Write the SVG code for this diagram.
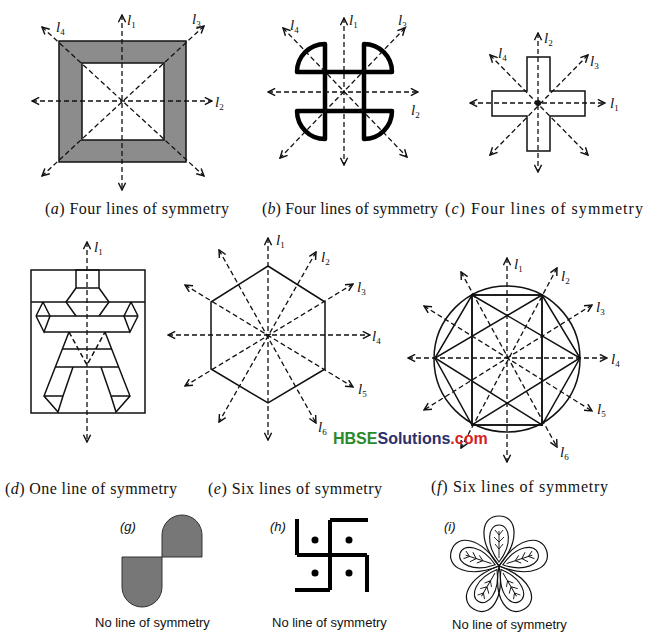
<svg xmlns="http://www.w3.org/2000/svg" width="649" height="636" viewBox="0 0 649 636">
<defs>
<marker id="ah" viewBox="0 0 10 10" refX="9" refY="5" markerWidth="9" markerHeight="9" markerUnits="userSpaceOnUse" orient="auto-start-reverse">
<path d="M1,1 L9,5 L1,9" fill="none" stroke="#111" stroke-width="1.6"/>
</marker>
<g id="petal">
<path d="M0,0 C-22,-26 -18,-50 0,-50 C18,-50 22,-26 0,0 Z" fill="none" stroke="#111" stroke-width="1.2"/>
<path d="M0,-4 C-14,-22 -11,-41 0,-41 C11,-41 14,-22 0,-4 Z" fill="none" stroke="#111" stroke-width="1.1"/>
<path d="M0,-8 V-35 M0,-31 L-4,-36 M0,-31 L4,-36 M0,-24 L-5,-29 M0,-24 L5,-29 M0,-17 L-4,-22 M0,-17 L4,-22" fill="none" stroke="#111" stroke-width="0.9"/>
</g>
</defs>
<style>
.sym{stroke:#111;stroke-width:1.3;stroke-dasharray:5,3;fill:none;marker-start:url(#ah);marker-end:url(#ah)}
.sh{fill:none;stroke:#111;stroke-width:1.5}
.lb{font-family:"Liberation Serif",serif;font-style:italic;font-size:15px;fill:#111}
.sub{font-size:9px;font-style:normal}
.cap{font-family:"Liberation Serif",serif;font-size:16px;fill:#111}
.capi{font-family:"Liberation Sans",sans-serif;font-size:13px;fill:#111}
</style>
<rect width="649" height="636" fill="#fff"/>

<g id="fig-a">
<path d="M59,41 H186 V162 H59 Z M82,63 V140 H164 V63 Z" fill="#8c8c8c" fill-rule="evenodd" stroke="#111" stroke-width="1.5"/>
</g>
<g id="fig-b">
<g fill="none" stroke="#000" stroke-width="4.5" stroke-linejoin="round">
<rect x="325" y="72" width="39" height="39"/>
<path d="M325,72 V44 A28,28 0 0 0 297,72 Z"/>
<path d="M364,72 V44 A28,28 0 0 1 392,72 Z"/>
<path d="M325,111 V139 A28,28 0 0 1 297,111 Z"/>
<path d="M364,111 V139 A28,28 0 0 0 392,111 Z"/>
</g>
</g>
<g id="fig-c">
<path d="M527,57 H550 V91 H585 V116 H550 V151 H527 V116 H492 V91 H527 Z" class="sh"/>
<circle cx="538" cy="103" r="3" fill="#111"/>
</g>
<g id="fig-d" class="sh">
<rect x="31" y="270" width="114" height="143"/>
<rect x="76" y="270" width="23" height="18"/>
<path d="M31,302 H145"/>
<path d="M76,288 L66,302 L76,316 M99,288 L109,302 L99,316"/>
<path d="M36,316 H138 M44,332 H130"/>
<path d="M36,316 L43,302 M36,316 L44,332 L50,316 L43,302 M138,316 L131,302 M138,316 L130,332 L124,316 L131,302"/>
<path d="M69,332 L44,396 L58,412 L63,396 L73,367 M44,396 H63"/>
<path d="M105,332 L130,396 L116,412 L111,396 L101,367 M111,396 H130"/>
<path d="M62,349 H112 M55,367 H119"/>
<path d="M69,332 L87,365 L105,332" stroke-dasharray="5,3"/>
</g>
<g id="fig-e">
<polygon points="268,266 325,302 325,369 268,403 211,369 211,302" class="sh"/>
</g>
<g id="fig-f" class="sh">
<circle cx="507" cy="359" r="73"/>
<polygon points="472,295 542,295 580,358 542,425 472,425 435,358"/>
<rect x="472" y="295" width="70" height="130"/>
<polygon points="472,295 580,358 472,425"/>
<polygon points="542,295 435,358 542,425"/>
</g>

<g id="connectors">
<line class="sym" x1="122" y1="15" x2="122" y2="190"/>
<line class="sym" x1="32" y1="101" x2="212" y2="101"/>
<line class="sym" x1="42" y1="27" x2="204" y2="176"/>
<line class="sym" x1="204" y1="26" x2="42" y2="176"/>

<line class="sym" x1="344" y1="18" x2="344" y2="165"/>
<line class="sym" x1="268" y1="92" x2="418" y2="92"/>
<line class="sym" x1="283" y1="28" x2="407" y2="157"/>
<line class="sym" x1="405" y1="28" x2="280" y2="158"/>

<line class="sym" x1="538" y1="33" x2="538" y2="172"/>
<line class="sym" x1="470" y1="103" x2="605" y2="103"/>
<line class="sym" x1="490" y1="55" x2="588" y2="155"/>
<line class="sym" x1="588" y1="55" x2="490" y2="155"/>

<line class="sym" x1="87" y1="242" x2="87" y2="442"/>

<line class="sym" x1="268" y1="238" x2="268" y2="440"/>
<line class="sym" x1="168" y1="335" x2="370" y2="335"/>
<line class="sym" x1="316" y1="252" x2="219" y2="422"/>
<line class="sym" x1="353" y1="284" x2="185" y2="386"/>
<line class="sym" x1="185" y1="285" x2="353" y2="387"/>
<line class="sym" x1="219" y1="250" x2="316" y2="423"/>

<line class="sym" x1="507" y1="258" x2="507" y2="462"/>
<line class="sym" x1="408" y1="358" x2="607" y2="358"/>
<line class="sym" x1="557" y1="268" x2="461" y2="448"/>
<line class="sym" x1="592" y1="305" x2="424" y2="410"/>
<line class="sym" x1="424" y1="306" x2="592" y2="411"/>
<line class="sym" x1="461" y1="272" x2="557" y2="447"/>
</g>

<g id="labels">
<text class="lb" x="127" y="25">l<tspan class="sub" dy="3">1</tspan></text>
<text class="lb" x="192" y="24">l<tspan class="sub" dy="3">3</tspan></text>
<text class="lb" x="56" y="32">l<tspan class="sub" dy="3">4</tspan></text>
<text class="lb" x="215" y="107">l<tspan class="sub" dy="3">2</tspan></text>

<text class="lb" x="349" y="25">l<tspan class="sub" dy="3">1</tspan></text>
<text class="lb" x="398" y="25">l<tspan class="sub" dy="3">3</tspan></text>
<text class="lb" x="290" y="30">l<tspan class="sub" dy="3">4</tspan></text>
<text class="lb" x="411" y="115">l<tspan class="sub" dy="3">2</tspan></text>

<text class="lb" x="544" y="43">l<tspan class="sub" dy="3">2</tspan></text>
<text class="lb" x="498" y="58">l<tspan class="sub" dy="3">4</tspan></text>
<text class="lb" x="590" y="66">l<tspan class="sub" dy="3">3</tspan></text>
<text class="lb" x="610" y="108">l<tspan class="sub" dy="3">1</tspan></text>

<text class="lb" x="94" y="252">l<tspan class="sub" dy="3">1</tspan></text>

<text class="lb" x="276" y="245">l<tspan class="sub" dy="3">1</tspan></text>
<text class="lb" x="321" y="262">l<tspan class="sub" dy="3">2</tspan></text>
<text class="lb" x="357" y="292">l<tspan class="sub" dy="3">3</tspan></text>
<text class="lb" x="372" y="341">l<tspan class="sub" dy="3">4</tspan></text>
<text class="lb" x="358" y="394">l<tspan class="sub" dy="3">5</tspan></text>
<text class="lb" x="318" y="432">l<tspan class="sub" dy="3">6</tspan></text>

<text class="lb" x="514" y="269">l<tspan class="sub" dy="3">1</tspan></text>
<text class="lb" x="561" y="281">l<tspan class="sub" dy="3">2</tspan></text>
<text class="lb" x="596" y="312">l<tspan class="sub" dy="3">3</tspan></text>
<text class="lb" x="611" y="364">l<tspan class="sub" dy="3">4</tspan></text>
<text class="lb" x="597" y="414">l<tspan class="sub" dy="3">5</tspan></text>
<text class="lb" x="560" y="457">l<tspan class="sub" dy="3">6</tspan></text>
</g>

<g id="captions">
<text class="cap" x="45" y="214" textLength="184" lengthAdjust="spacing">(<tspan font-style="italic">a</tspan>)  Four lines of symmetry</text>
<text class="cap" x="262" y="214" textLength="176" lengthAdjust="spacing">(<tspan font-style="italic">b</tspan>)  Four lines of symmetry</text>
<text class="cap" x="445" y="214" textLength="198" lengthAdjust="spacing">(<tspan font-style="italic">c</tspan>)  Four lines of symmetry</text>
<text class="cap" x="5" y="494" textLength="172" lengthAdjust="spacing">(<tspan font-style="italic">d</tspan>)  One line of symmetry</text>
<text class="cap" x="208" y="494" textLength="174" lengthAdjust="spacing">(<tspan font-style="italic">e</tspan>)  Six lines of symmetry</text>
<text class="cap" x="431" y="492" textLength="177" lengthAdjust="spacing">(<tspan font-style="italic">f</tspan>)  Six  lines of symmetry</text>
</g>

<g id="watermark">
<text x="333" y="444" font-family="Liberation Sans,sans-serif" font-weight="bold" font-size="16"><tspan fill="#2a8a2a">HBSE</tspan><tspan fill="#2b2f6b">Solutions</tspan><tspan fill="#d6221e">.com</tspan></text>
</g>

<g id="fig-g">
<text class="capi" x="120" y="531" font-style="italic">(g)</text>
<path d="M162,557 V535 A20,20 0 0 1 202,535 V557 Z" fill="#777" stroke="#333" stroke-width="1"/>
<path d="M122,557 H162 V587 A20,20 0 0 1 122,587 Z" fill="#777" stroke="#333" stroke-width="1"/>
<text class="capi" x="95" y="627">No line of symmetry</text>
</g>
<g id="fig-h">
<text class="capi" x="270" y="531" font-style="italic">(h)</text>
<path d="M330,520 V590 M297,555 H367 M330,520 H368 M367,555 V592 M330,590 H295 M297,555 V519" fill="none" stroke="#000" stroke-width="4"/>
<circle cx="315" cy="540" r="3.5" fill="#000"/>
<circle cx="349" cy="540" r="3.5" fill="#000"/>
<circle cx="315" cy="573" r="3.5" fill="#000"/>
<circle cx="349" cy="573" r="3.5" fill="#000"/>
<text class="capi" x="272" y="627">No line of symmetry</text>
</g>
<g id="fig-i">
<text class="capi" x="444" y="531" font-style="italic">(i)</text>
<use href="#petal" transform="translate(499,566)"/>
<use href="#petal" transform="translate(499,566) rotate(72)"/>
<use href="#petal" transform="translate(499,566) rotate(150)"/>
<use href="#petal" transform="translate(499,566) rotate(210)"/>
<use href="#petal" transform="translate(499,566) rotate(288)"/>
<text class="capi" x="452" y="629">No line of symmetry</text>
</g>
</svg>
